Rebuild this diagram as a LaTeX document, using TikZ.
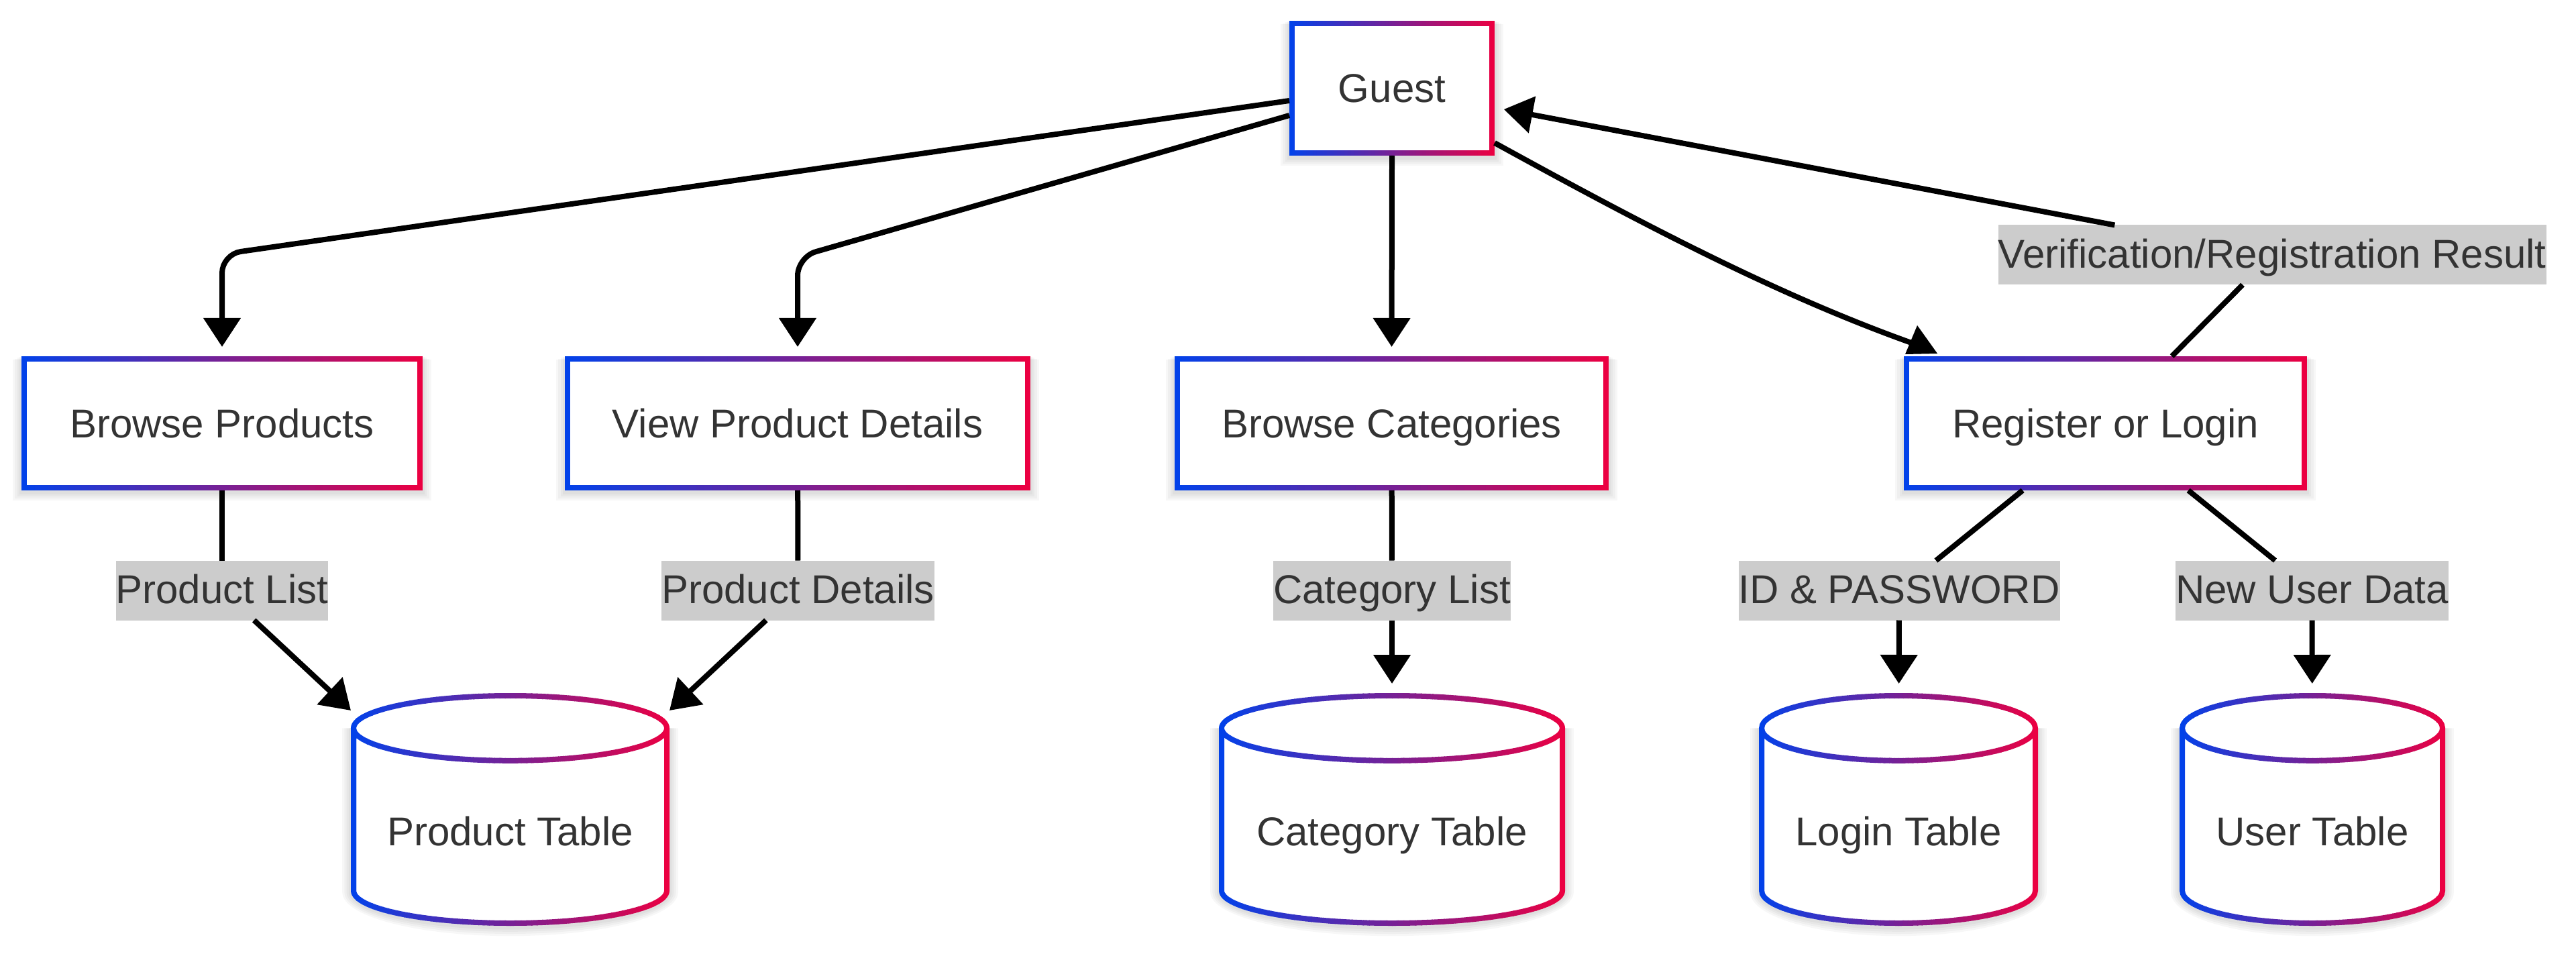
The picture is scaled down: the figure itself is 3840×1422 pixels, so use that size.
\documentclass[tikz,border=0pt]{standalone}
\usepackage{fontspec}
\setmainfont{Liberation Sans}
\usetikzlibrary{arrows.meta,calc}
\definecolor{gL}{HTML}{0042EB}
\definecolor{gR}{HTML}{EB0042}
\definecolor{txt}{HTML}{333333}
\definecolor{lblbg}{HTML}{CCCCCC}
\pgfdeclarelayer{bg}
\pgfsetlayers{bg,main}
\newcommand\nodefont{\fontsize{15pt}{18pt}\selectfont}
\makeatletter
\newcommand\grabnode[1]{%
  \pgfpointanchor{#1}{south west}%
  \xdef\gxa{\strip@pt\pgf@x}\xdef\gya{\strip@pt\pgf@y}%
  \pgfpointanchor{#1}{north east}%
  \xdef\gxb{\strip@pt\pgf@x}\xdef\gyb{\strip@pt\pgf@y}}
\makeatother
\newcommand\gradloop[1]{%
  \pgfmathsetmacro\ylo{\gya-4}\pgfmathsetmacro\yhi{\gyb+4}%
  \foreach \i in {0,...,59}{%
    \pgfmathsetmacro\xl{\gxa+(\gxb-\gxa)*\i/60-(\i==0)*4}%
    \pgfmathsetmacro\xr{\gxa+(\gxb-\gxa)*(\i+1)/60+0.3+(\i==59)*4}%
    \pgfmathtruncatemacro\pct{100-100*(\i+0.5)/60}%
    \begin{scope}[x=1pt,y=1pt]%
      \clip (\xl,\ylo) rectangle (\xr,\yhi);%
      #1%
    \end{scope}}}
\newcommand\gradrect[1]{%
  \grabnode{#1}%
  \pgfmathsetmacro\ixa{\gxa+1}\pgfmathsetmacro\iya{\gya+1}%
  \pgfmathsetmacro\ixb{\gxb-1}\pgfmathsetmacro\iyb{\gyb-1}%
  \begin{pgfonlayer}{bg}
   \begin{scope}[x=1pt,y=1pt]
    \foreach \k in {1,...,4}{\fill[black,opacity=0.03] (\gxa-\k*0.8,\gya-0.6-\k*0.8) rectangle (\gxb+\k*0.8,\gyb-\k*0.3);}
   \end{scope}
  \end{pgfonlayer}
  \gradloop{\draw[line width=2pt,draw=gL!\pct!gR] (\ixa,\iya) rectangle (\ixb,\iyb);}}
\newcommand\gradcyl[1]{%
  \grabnode{#1}%
  \pgfmathsetmacro\cxl{\gxa+1}\pgfmathsetmacro\cxr{\gxb-1}%
  \pgfmathsetmacro\ccx{(\gxa+\gxb)/2}\pgfmathsetmacro\crx{(\gxb-\gxa)/2-1}%
  \def\cry{12.1}%
  \pgfmathsetmacro\cyt{\gyb-1-\cry}\pgfmathsetmacro\cyb{\gya+1+\cry}%
  \begin{pgfonlayer}{bg}
   \begin{scope}[x=1pt,y=1pt]
    \foreach \k in {1,...,4}{\fill[black,opacity=0.03] (\gxa-\k*0.8,\cyt) -- (\gxa-\k*0.8,\cyb-0.6) arc[start angle=180,end angle=360,x radius=\crx+1+\k*0.8,y radius=\cry+1+\k*0.8] -- (\gxb+\k*0.8,\cyt) -- cycle;}
    \fill[white] (\cxl,\cyt) -- (\cxl,\cyb) arc[start angle=180,end angle=360,x radius=\crx,y radius=\cry] -- (\cxr,\cyt) arc[start angle=0,end angle=180,x radius=\crx,y radius=\cry] -- cycle;
   \end{scope}
  \end{pgfonlayer}
  \gradloop{\draw[line width=2pt,draw=gL!\pct!gR] (\ccx,\cyt) ellipse [x radius=\crx,y radius=\cry] (\cxl,\cyt) -- (\cxl,\cyb) arc[start angle=180,end angle=360,x radius=\crx,y radius=\cry] -- (\cxr,\cyt);}}
\tikzset{
  procbox/.style={fill=white, inner sep=0pt, outer sep=0pt, text=txt, font=\nodefont,
    text height=10.75pt, text depth=0pt, minimum height=50pt},
  bw/.style={minimum width=#1*0.25pt},
  dbnode/.style={fill=none, inner sep=0pt, outer sep=0pt, text=txt, font=\nodefont,
    text height=56.9pt, text depth=29.85pt},
  lbl/.style={fill=lblbg, inner xsep=0pt, inner ysep=0pt, outer sep=0pt, text=txt,
    font=\nodefont, text height=16pt, text depth=6.25pt},
  conn/.style={line width=2pt, draw=black},
  arr/.style={conn, -{Triangle[length=10.75pt,width=13.5pt]}, shorten >=3.5pt},
}
\begin{document}
\begin{tikzpicture}[x=0.25pt,y=-0.25pt]
\begin{pgfonlayer}{bg}
  \fill[white] (0,0) rectangle (3840,1422);
\end{pgfonlayer}
\useasboundingbox (0,0) rectangle (3840,1422);

% process boxes
\node[procbox, bw=306, minimum height=50.25pt] (guest) at (2075,131.5) {Guest};
\node[procbox, bw=598] (bp)  at (331,631) {Browse Products};
\node[procbox, bw=694] (vpd) at (1189,631) {View Product Details};
\node[procbox, bw=647] (bc)  at (2074.5,631) {Browse Categories};
\node[procbox, bw=601] (reg) at (3138.5,631) {Register or Login};

% databases
\node[dbnode, bw=475] (pt) at (760.5,1206.5) {Product Table};
\node[dbnode, bw=516] (ct) at (2075,1206.5) {Category Table};
\node[dbnode, bw=416] (lt) at (2830,1206.5) {Login Table};
\node[dbnode, bw=396] (ut) at (3447,1206.5) {User Table};

% edge labels
\node[lbl] (pl)  at (331,880) {Product List};
\node[lbl] (pd)  at (1189.5,880) {Product Details};
\node[lbl] (cl)  at (2075,880) {Category List};
\node[lbl] (idl) at (2831,880) {ID \& PASSWORD};
\node[lbl] (nud) at (3446.5,880) {New User Data};
\node[lbl] (vl)  at (3387,380) {Verification/Registration Result};

% gradient borders
\gradrect{guest}
\gradrect{bp}
\gradrect{vpd}
\gradrect{bc}
\gradrect{reg}
\gradcyl{pt}
\gradcyl{ct}
\gradcyl{lt}
\gradcyl{ut}

% connectors
\coordinate (k1) at (331,379);
\coordinate (k2) at (1189,383);
\draw[arr, rounded corners=7pt] ($(guest.west)+(0,18.5)$) -- (k1) -- (bp.north);
\draw[arr, rounded corners=7pt] ($(guest.west)+(0,40.5)$) -- (k2) -- (vpd.north);
\draw[arr] (guest.south) -- (bc.north);
\draw[conn] ($(guest.east)+(0,81.5)$) .. controls (2450,335) and (2650,440) .. ($(reg.north west)+(14,-19)$);
\fill ($(reg.north west)+(20,-46)$) -- ($(reg.north west)+(50,-4)$) -- ($(reg.north west)+(2,-3)$) -- cycle;
\draw[conn] (reg) -- (vl);
\draw[arr] (vl) -- (guest);

\draw[conn] (bp) -- (pl);
\draw[arr, shorten >=0pt] (pl) -- ($(pt.north west)+(0,26)$);
\draw[conn] (vpd) -- (pd);
\draw[arr, shorten >=0pt] (pd) -- ($(pt.north east)+(0,26)$);
\draw[conn] (bc) -- (cl);
\draw[arr] (cl) -- (ct);
\draw[conn] (reg) -- (idl);
\draw[arr] (idl) -- (lt);
\draw[conn] (reg) -- (nud);
\draw[arr] (nud) -- (ut);
\end{tikzpicture}
\end{document}
